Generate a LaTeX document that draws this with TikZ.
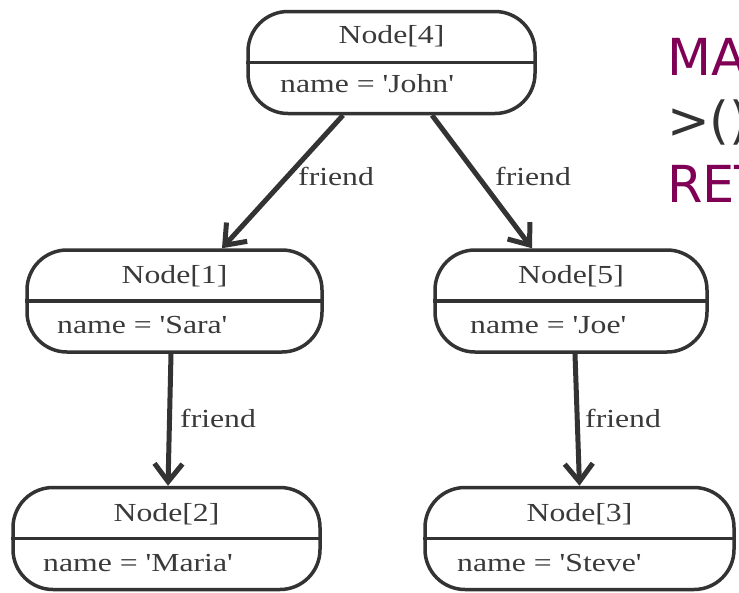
\documentclass[tikz,border=0pt]{standalone}
\usepackage{fontspec}
\usepackage{graphicx}
\newfontfamily\nodefont{Liberation Serif}
\newfontfamily\dvsans{DejaVu Sans}
\usetikzlibrary{arrows.meta}
\definecolor{linec}{HTML}{333333}
\definecolor{textc}{HTML}{3A3A3A}
\definecolor{kw}{HTML}{7F0055}
\newcommand{\wideText}[1]{\scalebox{1.22}[1]{#1}}
\begin{document}
\begin{tikzpicture}[x=1pt,y=-1pt,
  box/.style={draw=linec, line width=3.5pt, rounded corners=40pt, inner sep=0pt, minimum height=102pt},
  divider/.style={draw=linec, line width=3.5pt},
  lbl/.style={text=textc, font=\nodefont\fontsize{26}{30}\selectfont, inner sep=0pt},
  rel/.style={draw=linec, line width=5pt, -{Straight Barb[length=18pt,width=28pt]}},
  code/.style={font=\dvsans\fontsize{51}{60}\selectfont, inner sep=0pt, anchor=base west}]
\useasboundingbox (0,0) rectangle (739,592);
\clip (0,0) rectangle (739,592);
\fill[white] (0,0) rectangle (739,592);

% node boxes
\node[box, minimum width=287pt] (n4) at (391.5,62.5) {};
\node[box, minimum width=295pt] (n1) at (174.5,301) {};
\node[box, minimum width=272pt] (n5) at (571,301) {};
\node[box, minimum width=307pt] (n2) at (166.5,538.5) {};
\node[box, minimum width=309pt] (n3) at (579.5,538.5) {};

\foreach \n in {n4,n1,n5,n2,n3} {\draw[divider] (\n.west) -- (\n.east);}

% titles
\node[lbl, anchor=base] (t4) at (391.5,43) {\wideText{Node[4]}};
\node[lbl, anchor=base] (t1) at (174.5,283) {\wideText{Node[1]}};
\node[lbl, anchor=base] (t5) at (571,283) {\wideText{Node[5]}};
\node[lbl, anchor=base] (t2) at (166.5,521) {\wideText{Node[2]}};
\node[lbl, anchor=base] (t3) at (579.5,521) {\wideText{Node[3]}};

% properties
\node[lbl, anchor=base west] (v4) at (280,92) {\wideText{name = 'John'}};
\node[lbl, anchor=base west] (v1) at (57,333) {\wideText{name = 'Sara'}};
\node[lbl, anchor=base west] (v5) at (470,333) {\wideText{name = 'Joe'}};
\node[lbl, anchor=base west] (v2) at (43,571) {\wideText{name = 'Maria'}};
\node[lbl, anchor=base west] (v3) at (457,571) {\wideText{name = 'Steve'}};

% relationships
\draw[rel] ([xshift=-48.5pt]n4.south) -- ([xshift=47.5pt]n1.north);
\draw[rel] ([xshift=40.5pt]n4.south) -- ([xshift=-39pt]n5.north);
\draw[rel] ([xshift=-3.5pt]n1.south) -- ([xshift=1.5pt]n2.north);
\draw[rel] ([xshift=4pt]n5.south) -- ([xshift=0pt]n3.north);

\node[lbl, anchor=base west] (f1) at (298,185) {\wideText{friend}};
\node[lbl, anchor=base west] (f2) at (495,185) {\wideText{friend}};
\node[lbl, anchor=base west] (f3) at (180,427) {\wideText{friend}};
\node[lbl, anchor=base west] (f4) at (585,427) {\wideText{friend}};

% query text (cut off at the right edge, as in the reference)
\node[code, text=kw] (c1) at (667,75) {MA};
\node[code, text=linec] (c2) at (667,138) {>()};
\node[code, text=kw] (c3) at (667,202) {RET};
\end{tikzpicture}
\end{document}
